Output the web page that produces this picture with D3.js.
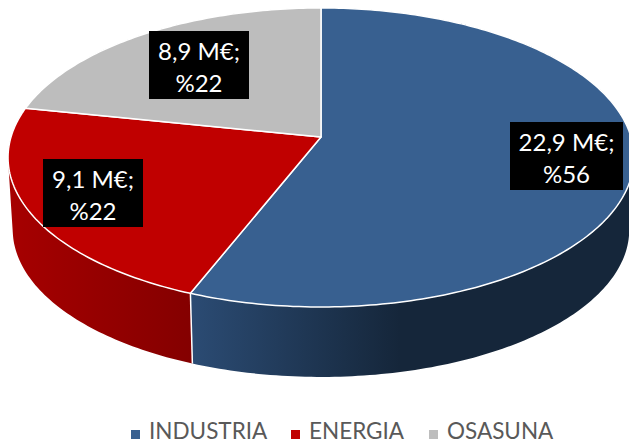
<!DOCTYPE html>
<html>
<head>
<meta charset="utf-8">
<script src="https://cdn.jsdelivr.net/npm/d3@7"></script>
<style>
    html, body { margin: 0; padding: 0; background: #fff; overflow: hidden; }
    text { font-family: Lato, "Open Sans", sans-serif; }
</style>
</head>
<body>
<div id="chart"></div>
<script>
const categories = ["INDUSTRIA", "ENERGIA", "OSASUNA"];
const millions = [22.9, 9.1, 8.9];
const percents = [56, 22, 22];

const topColors = ["#386090", "#c00000", "#bdbdbd"];
const sideStops = [["#2b4b73", "#15263a"], ["#a60000", "#840000"], ["#9a9a9a", "#8a8a8a"]];
const sideSpans = [[193, 400], [10, 192], [10, 321]];

const width = 629, height = 444;

// Perspective of the disc: apex, radius, tilt and extrusion of the lower rim
const cx = 321, cy = 137, radius = 310, tilt = 0.137, yScale = 146.7;
const rimScale = 0.985, rimCy = 209.5;

const svg = d3.select("#chart").append("svg")
    .attr("width", width)
    .attr("height", height)
    .style("display", "block");

const defs = svg.append("defs");

function project(angle) {
    let u = Math.sin(angle), v = -Math.cos(angle);
    let w = 1 - tilt * v;
    return [radius * u / w, yScale * v / w];
}
const topPoint = a => { let p = project(a); return [cx + p[0], cy + p[1]]; };
const rimPoint = a => { let p = project(a); return [cx + rimScale * p[0], rimCy + rimScale * p[1]]; };

function samples(start, end) {
    let n = Math.max(2, Math.ceil((end - start) * 60));
    return d3.range(n + 1).map(i => start + (end - start) * i / n);
}

const slices = d3.pie().sort(null)(millions);
const line = d3.line();

// Sides: quad strip between upper and lower rim, so the silhouette stays convex
const sides = svg.append("g");
slices.forEach((d, i) => {
    defs.append("linearGradient")
        .attr("id", "side" + i)
        .attr("gradientUnits", "userSpaceOnUse")
        .attr("x1", sideSpans[i][0]).attr("x2", sideSpans[i][1])
        .attr("y1", 0).attr("y2", 0)
        .selectAll("stop")
        .data(sideStops[i])
        .join("stop")
        .attr("offset", (s, k) => k)
        .attr("stop-color", s => s);

    let angles = samples(d.startAngle, d.endAngle);
    let strip = "";
    angles.slice(1).forEach((a, k) => {
        let quad = [topPoint(angles[k]), topPoint(a), rimPoint(a), rimPoint(angles[k])];
        if (d3.polygonArea(quad) < 0) quad.reverse();
        strip += line(quad) + "Z";
    });
    sides.append("path")
        .attr("d", strip)
        .attr("fill", `url(#side${i})`);
});

// White seam on the side between blue and red
sides.append("path")
    .attr("d", line([topPoint(slices[0].endAngle), rimPoint(slices[0].endAngle)]))
    .attr("stroke", "#fff")
    .attr("stroke-width", 1.5);

// Top face
svg.append("g").selectAll("path")
    .data(slices)
    .join("path")
    .attr("d", d => line([[cx, cy], ...samples(d.startAngle, d.endAngle).map(topPoint)]) + "Z")
    .attr("fill", (d, i) => topColors[i])
    .attr("stroke", "#fff")
    .attr("stroke-width", 1.5)
    .attr("stroke-linejoin", "round");

// Data labels
const labelBoxes = [[510, 122, 113, 68], [43, 159, 100, 68], [149, 31, 100, 68]];
const labels = svg.append("g").selectAll("g")
    .data(slices)
    .join("g")
    .attr("transform", (d, i) => `translate(${labelBoxes[i][0]},${labelBoxes[i][1]})`);
labels.append("rect")
    .attr("width", (d, i) => labelBoxes[i][2])
    .attr("height", (d, i) => labelBoxes[i][3])
    .attr("fill", "#000");
labels.append("text")
    .attr("x", (d, i) => labelBoxes[i][2] / 2)
    .attr("y", 29)
    .attr("text-anchor", "middle")
    .attr("fill", "#fff")
    .attr("font-size", 24)
    .text((d, i) => millions[i].toFixed(1).replace(".", ",") + " M€;");
labels.append("text")
    .attr("x", (d, i) => labelBoxes[i][2] / 2)
    .attr("y", 61)
    .attr("text-anchor", "middle")
    .attr("fill", "#fff")
    .attr("font-size", 24)
    .text((d, i) => "%" + percents[i]);

// Legend
const legendX = [131, 291, 429];
const legend = svg.append("g").selectAll("g")
    .data(categories)
    .join("g")
    .attr("transform", (d, i) => `translate(${legendX[i]},430)`);
legend.append("rect")
    .attr("width", 9)
    .attr("height", 9)
    .attr("fill", (d, i) => topColors[i]);
legend.append("text")
    .attr("x", 18)
    .attr("y", 9)
    .attr("fill", "#595959")
    .attr("font-size", 22.5)
    .text(d => d);
</script>
</body>
</html>
